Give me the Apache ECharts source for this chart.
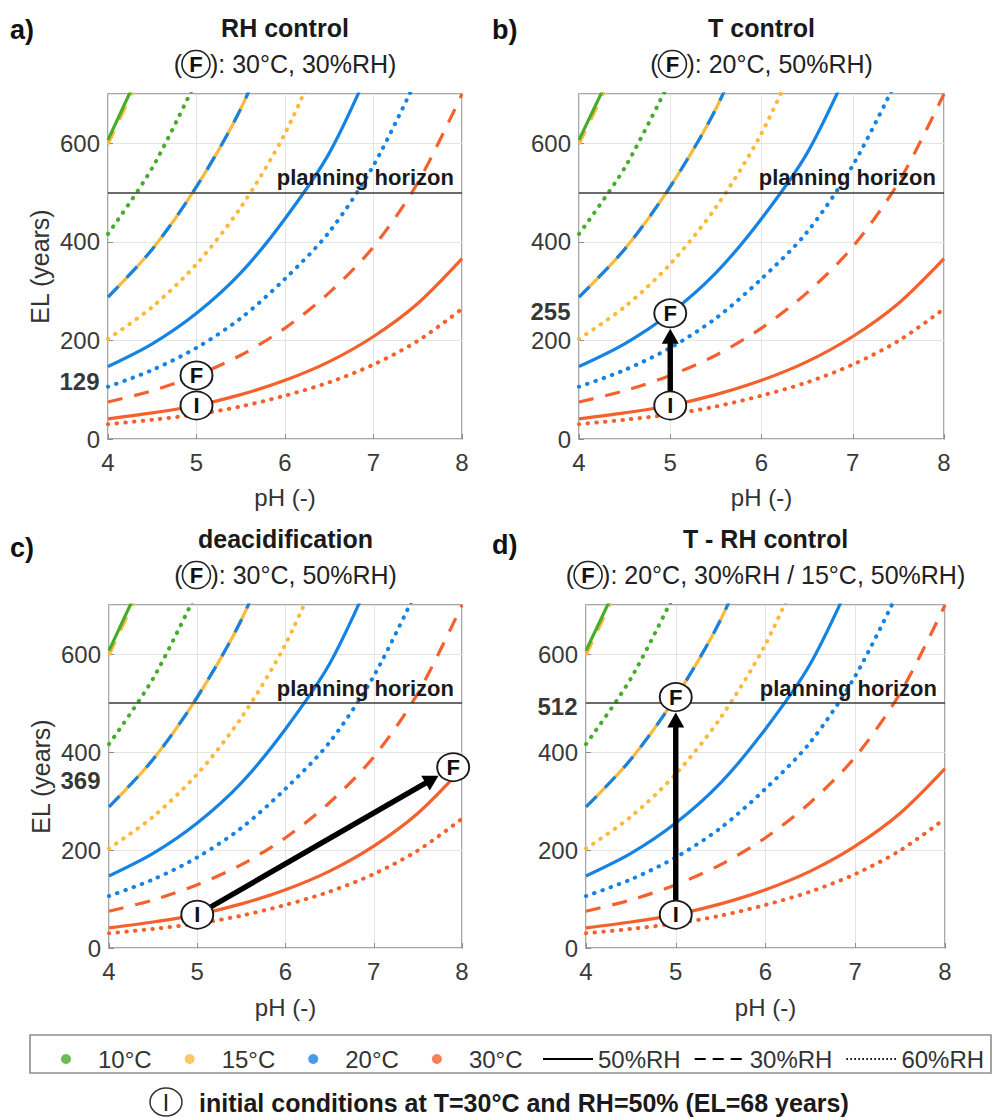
<!DOCTYPE html>
<html>
<head>
<meta charset="utf-8">
<title>Expected lifetime vs pH</title>
<script src="https://cdn.jsdelivr.net/npm/echarts@6/dist/echarts.min.js"></script>
<style>
  html, body { margin: 0; padding: 0; background: #fff; }
  #chart { width: 994px; height: 1118px; }
</style>
</head>
<body>
<div id="chart"></div>
<script>
// ---- data -------------------------------------------------------------
const PH = [4, 4.5, 5, 5.5, 6, 6.5, 7, 7.5, 8];

// EL (years) at each PH step; a curve stops once it has left the 0-700 window
const EL_10C_50RH = [607, 800];
const EL_10C_60RH = [416, 550, 728];
const EL_15C_30RH = [598, 790];
const EL_15C_50RH = [288, 385, 512, 670, 880];
const EL_15C_60RH = [203, 268, 355, 470, 620, 820];
const EL_20C_30RH = [288, 385, 512, 670, 880];
const EL_20C_50RH = [147, 193, 255, 337, 447, 580, 770];
const EL_20C_60RH = [106, 140, 185, 245, 325, 420, 555, 735];
const EL_30C_30RH = [75, 98, 129, 170, 225, 297, 390, 520, 700];
const EL_30C_50RH = [41, 53, 68, 90, 119, 157, 208, 275, 366];
const EL_30C_60RH = [30, 39, 50, 66, 88, 115, 151, 199, 264];

const TEMPS = ['10°C', '15°C', '20°C', '30°C'];
const RHS = ['50%RH', '30%RH', '60%RH'];

// drawing order: later curves sit on top of earlier ones
const CURVES = [
  ['15°C', '30%RH', EL_15C_30RH],
  ['10°C', '50%RH', EL_10C_50RH],
  ['10°C', '60%RH', EL_10C_60RH],
  ['15°C', '50%RH', EL_15C_50RH],
  ['20°C', '30%RH', EL_20C_30RH],
  ['15°C', '60%RH', EL_15C_60RH],
  ['20°C', '50%RH', EL_20C_50RH],
  ['20°C', '60%RH', EL_20C_60RH],
  ['30°C', '30%RH', EL_30C_30RH],
  ['30°C', '50%RH', EL_30C_50RH],
  ['30°C', '60%RH', EL_30C_60RH]
];

const PANEL_LETTERS = ['a)', 'b)', 'c)', 'd)'];
const PANEL_TITLES = ['RH control', 'T control', 'deacidification', 'T - RH control'];
const PANEL_FINAL_TEXT = ['30°C, 30%RH', '20°C, 50%RH', '30°C, 50%RH', '20°C, 30%RH / 15°C, 50%RH'];
const INITIAL_POINT = [5, 68];
const FINAL_POINTS = [[5, 129], [5, 255], [7.9, 369], [5, 512]];
const HAS_ARROW = [false, true, true, true];
const PLANNING_HORIZON = 500;
const X_TICKS = { min: 4, max: 8, step: 1 };
const Y_TICKS = { min: 0, max: 700, step: 200 };
const NOTE_TEXT = 'initial conditions at T=30°C and RH=50% (EL=68 years)';

// ---- styles / layout ----------------------------------------------------
const FONT = "'Liberation Sans', Arial, Helvetica, sans-serif";
const TEMP_COLOR = { '10°C': '#45ad2b', '15°C': '#fdb93c', '20°C': '#1583e3', '30°C': '#f5602c' };
const RH_LINE = {
  '50%RH': { type: 'solid', width: 3.2 },
  '30%RH': { type: [15, 12], width: 3.2 },
  '60%RH': { type: [0.5, 8.2], width: 4, cap: 'round' }
};
const GRIDS = [
  { left: 108, top: 94, width: 354, height: 345 },
  { left: 579, top: 94, width: 365, height: 345 },
  { left: 109, top: 605, width: 353, height: 343 },
  { left: 586, top: 605, width: 359, height: 343 }
];
const VALUE_LABEL_DY = [6, -2, 13, 9];
const LETTER_POS = [[10, 30], [492, 30], [10, 548], [492, 545]];
const SHOW_Y_NAME = [true, false, true, false];
const CIRCLE = [32, 28];

// ---- options --------------------------------------------------------------
const grid = GRIDS.map(g => Object.assign({
  show: true, borderColor: '#8c8c8c', borderWidth: 1.5, backgroundColor: '#fff', containLabel: false
}, g));

const xAxis = GRIDS.map((g, p) => ({
  type: 'value', gridIndex: p,
  min: X_TICKS.min, max: X_TICKS.max, interval: X_TICKS.step,
  name: 'pH (-)', nameLocation: 'middle', nameGap: p < 2 ? 46 : 47,
  nameTextStyle: { fontSize: 24, color: '#333', fontFamily: FONT },
  axisLine: { show: false },
  axisTick: { show: true, inside: true, length: 5, lineStyle: { color: '#8c8c8c' } },
  axisLabel: { fontSize: 24, color: '#3a3a3a', fontFamily: FONT, margin: 11 },
  splitLine: { show: true, lineStyle: { color: '#e4e4e4', width: 1 } }
}));

const yAxis = GRIDS.map((g, p) => ({
  type: 'value', gridIndex: p,
  min: Y_TICKS.min, max: Y_TICKS.max, interval: Y_TICKS.step,
  name: SHOW_Y_NAME[p] ? 'EL (years)' : '', nameLocation: 'middle', nameGap: 56, nameRotate: 90,
  nameTextStyle: { fontSize: 25, color: '#333', fontFamily: FONT },
  axisLine: { show: false },
  axisTick: { show: true, inside: true, length: 5, lineStyle: { color: '#8c8c8c' } },
  axisLabel: { fontSize: 24, color: '#3a3a3a', fontFamily: FONT, margin: 8, showMaxLabel: false },
  splitLine: { show: true, lineStyle: { color: '#e4e4e4', width: 1 } }
}));

function ellipseRadius(ux, uy) {
  const rx = CIRCLE[0] / 2, ry = CIRCLE[1] / 2;
  return 1 / Math.sqrt((ux / rx) * (ux / rx) + (uy / ry) * (uy / ry));
}

// arrow from one circled point to another, trimmed at both circles
function renderArrow(params, api) {
  const a = api.coord([api.value(0), api.value(1)]);
  const b = api.coord([api.value(2), api.value(3)]);
  const dx = b[0] - a[0], dy = b[1] - a[1];
  const len = Math.hypot(dx, dy);
  const ux = dx / len, uy = dy / len;
  const r = ellipseRadius(ux, uy);
  const s = [a[0] + ux * (r + 0.5), a[1] + uy * (r + 0.5)];
  const e = [b[0] - ux * (r + 1.5), b[1] - uy * (r + 1.5)];
  const headLen = 15, headHalf = 8.5;
  const base = [e[0] - ux * headLen, e[1] - uy * headLen];
  return {
    type: 'group',
    children: [
      { type: 'line', shape: { x1: s[0], y1: s[1], x2: base[0] + ux * 2, y2: base[1] + uy * 2 },
        style: { stroke: '#000', lineWidth: 5.4 } },
      { type: 'polygon',
        shape: { points: [e, [base[0] - uy * headHalf, base[1] + ux * headHalf], [base[0] + uy * headHalf, base[1] - ux * headHalf]] },
        style: { fill: '#000' } }
    ]
  };
}

const series = [];
GRIDS.forEach((g, p) => {
  CURVES.forEach(([t, rh, vals]) => {
    const ls = RH_LINE[rh];
    series.push({
      type: 'line', name: t + ', ' + rh, xAxisIndex: p, yAxisIndex: p,
      data: vals.map((v, i) => [PH[i], v]),
      symbol: 'none', showSymbol: false, smooth: 0.3, silent: true, z: 2,
      color: TEMP_COLOR[t],
      lineStyle: { color: TEMP_COLOR[t], width: ls.width, type: ls.type, cap: ls.cap || 'butt' }
    });
  });

  series.push({
    type: 'line', name: 'horizon-' + p, xAxisIndex: p, yAxisIndex: p, data: [], z: 3,
    markLine: {
      silent: true, symbol: ['none', 'none'], animation: false,
      data: [{ yAxis: PLANNING_HORIZON }],
      lineStyle: { color: '#3a3a3a', width: 1.6, type: 'solid' },
      label: {
        show: true, position: 'insideEndTop', formatter: 'planning horizon',
        fontSize: 22, fontWeight: 'bold', color: '#1a1a1a', fontFamily: FONT, distance: [8, 4]
      }
    }
  });

  const fin = FINAL_POINTS[p];
  series.push({
    type: 'scatter', name: 'value-' + p, xAxisIndex: p, yAxisIndex: p, z: 6, silent: true,
    data: [[X_TICKS.min, fin[1]]], symbolSize: 1, itemStyle: { color: 'rgba(0,0,0,0)' },
    label: {
      show: true, position: 'left', distance: 8, formatter: String(fin[1]),
      fontSize: 24, fontWeight: 'bold', color: '#000', fontFamily: FONT, offset: [0, VALUE_LABEL_DY[p]]
    }
  });

  if (HAS_ARROW[p]) {
    series.push({
      type: 'custom', name: 'arrow-' + p, xAxisIndex: p, yAxisIndex: p, z: 8, silent: true,
      data: [[INITIAL_POINT[0], INITIAL_POINT[1], fin[0], fin[1]]],
      encode: { x: [0, 2], y: [1, 3] },
      renderItem: renderArrow, clip: false
    });
  }

  series.push({
    type: 'scatter', name: 'points-' + p, xAxisIndex: p, yAxisIndex: p, z: 10, silent: true, clip: false,
    data: [[INITIAL_POINT[0], INITIAL_POINT[1], 'I'], [fin[0], fin[1], 'F']],
    symbol: 'circle', symbolSize: CIRCLE,
    itemStyle: { color: '#fff', borderColor: '#1a1a1a', borderWidth: 1.8, opacity: 1 },
    label: {
      show: true, position: 'inside', formatter: d => d.value[2],
      fontSize: 22, fontWeight: 'bold', color: '#111', fontFamily: FONT
    }
  });
});

// entries shown in the legend
TEMPS.forEach(t => series.push({ type: 'scatter', name: t, data: [], color: TEMP_COLOR[t], itemStyle: { color: TEMP_COLOR[t] } }));
const LEGEND_LINE = {
  '50%RH': { type: 'solid', width: 2.6 },
  '30%RH': { type: [11, 7], width: 2.6 },
  '60%RH': { type: [1.5, 2.5], width: 2 }
};
RHS.forEach(rh => {
  series.push({
    type: 'line', name: rh, data: [], symbol: 'none', color: '#000',
    lineStyle: { color: '#000', width: LEGEND_LINE[rh].width, type: LEGEND_LINE[rh].type }
  });
});

const graphic = [];
GRIDS.forEach((g, p) => {
  const cx = g.left + g.width / 2;
  graphic.push({
    type: 'text', x: LETTER_POS[p][0], y: LETTER_POS[p][1],
    style: { text: PANEL_LETTERS[p], fontSize: 27, fontWeight: 'bold', fontFamily: FONT, fill: '#111', align: 'left', verticalAlign: 'middle' }
  });
  graphic.push({
    type: 'text', x: cx, y: g.top - 66,
    style: { text: PANEL_TITLES[p], fontSize: 25, fontWeight: 'bold', fontFamily: FONT, fill: '#1a1a1a', align: 'center', verticalAlign: 'middle' }
  });
  graphic.push({
    type: 'text', x: cx, y: g.top - 30,
    style: {
      text: '({c|F}): ' + PANEL_FINAL_TEXT[p] + ')',
      fontSize: 25, fontFamily: FONT, fill: '#222', align: 'center', verticalAlign: 'middle',
      rich: {
        c: {
          width: 28, height: 27, lineHeight: 27, align: 'center', verticalAlign: 'middle',
          borderColor: '#222', borderWidth: 1.6, borderRadius: 14,
          fontSize: 22, fontWeight: 'bold', fontFamily: FONT, fill: '#111'
        }
      }
    }
  });
});

// legend frame
graphic.push({
  type: 'rect', z: 0,
  shape: { x: 30, y: 1035, width: 961, height: 38 },
  style: { fill: '#fff', stroke: '#8f8f8f', lineWidth: 1.6 }
});

// note on the initial conditions
graphic.push({
  type: 'ellipse',
  shape: { cx: 166, cy: 1102, rx: 16, ry: 14 },
  style: { fill: '#fff', stroke: '#333', lineWidth: 1.5 }
});
graphic.push({
  type: 'text', x: 166, y: 1103,
  style: { text: 'I', fontSize: 23, fontFamily: FONT, fill: '#222', align: 'center', verticalAlign: 'middle' }
});
graphic.push({
  type: 'text', x: 199, y: 1103,
  style: { text: NOTE_TEXT, fontSize: 25, fontWeight: 'bold', fontFamily: FONT, fill: '#1a1a1a', align: 'left', verticalAlign: 'middle' }
});

const option = {
  animation: false,
  backgroundColor: '#fff',
  grid, xAxis, yAxis, series, graphic,
  legend: [
    {
      data: TEMPS, left: 56, top: 1042, orient: 'horizontal', selectedMode: false,
      icon: 'circle', itemWidth: 10, itemHeight: 10, itemGap: 33,
      textStyle: { fontSize: 24, color: '#333', fontFamily: FONT, padding: [0, 0, 0, 22] }
    },
    {
      data: RHS, left: 537, top: 1042, orient: 'horizontal', selectedMode: false,
      itemWidth: 50, itemHeight: 14, itemGap: 13,
      itemStyle: { color: 'rgba(0,0,0,0)', borderColor: 'rgba(0,0,0,0)', borderWidth: 0, opacity: 0 },
      textStyle: { fontSize: 24, color: '#333', fontFamily: FONT }
    }
  ]
};

const chart = echarts.init(document.getElementById('chart'), null, { renderer: 'svg', width: 994, height: 1118 });
chart.setOption(option);
</script>
</body>
</html>
